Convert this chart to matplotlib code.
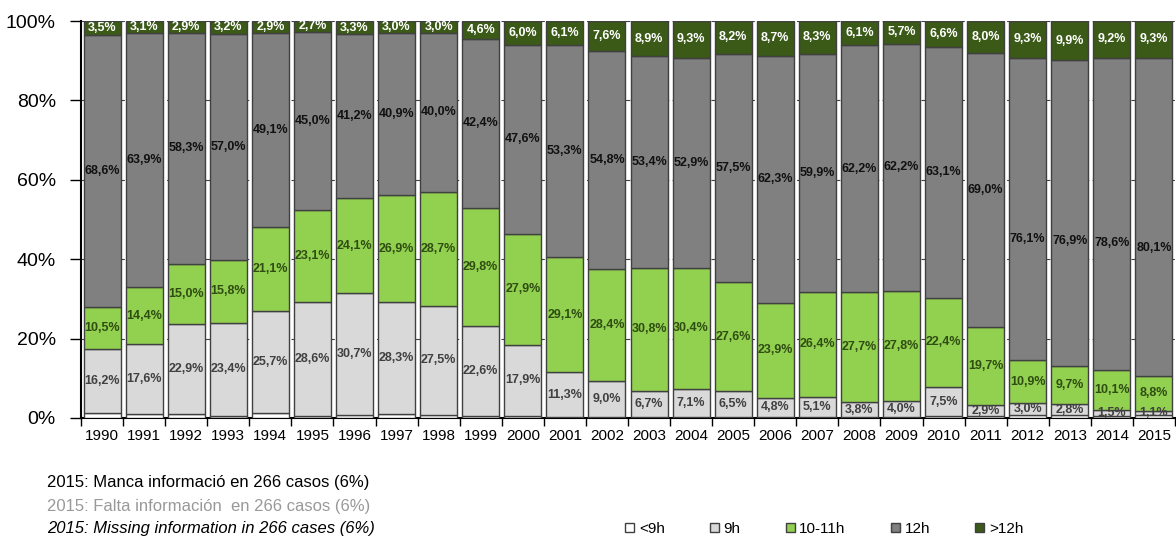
import numpy as np
import matplotlib.pyplot as plt
from matplotlib.patches import Patch

plt.rcParams['font.family'] = ['Liberation Sans', 'DejaVu Sans']

years = [str(y) for y in range(1990, 2016)]

# percentages per category
h9 = [16.2, 17.6, 22.9, 23.4, 25.7, 28.6, 30.7, 28.3, 27.5, 22.6, 17.9, 11.3, 9.0,
      6.7, 7.1, 6.5, 4.8, 5.1, 3.8, 4.0, 7.5, 2.9, 3.0, 2.8, 1.5, 1.1]
h10_11 = [10.5, 14.4, 15.0, 15.8, 21.1, 23.1, 24.1, 26.9, 28.7, 29.8, 27.9, 29.1, 28.4,
          30.8, 30.4, 27.6, 23.9, 26.4, 27.7, 27.8, 22.4, 19.7, 10.9, 9.7, 10.1, 8.8]
h12 = [68.6, 63.9, 58.3, 57.0, 49.1, 45.0, 41.2, 40.9, 40.0, 42.4, 47.6, 53.3, 54.8,
       53.4, 52.9, 57.5, 62.3, 59.9, 62.2, 62.2, 63.1, 69.0, 76.1, 76.9, 78.6, 80.1]
h12plus = [3.5, 3.1, 2.9, 3.2, 2.9, 2.7, 3.3, 3.0, 3.0, 4.6, 6.0, 6.1, 7.6,
           8.9, 9.3, 8.2, 8.7, 8.3, 6.1, 5.7, 6.6, 8.0, 9.3, 9.9, 9.2, 9.3]
# <9h is not labelled, it's the rest up to 100%
lt9 = list(np.round(100 - np.array(h9) - np.array(h10_11) - np.array(h12) - np.array(h12plus), 1))

series = [('<9h', lt9, '#ffffff', None),
          ('9h', h9, '#d9d9d9', '#404040'),
          ('10-11h', h10_11, '#92d050', '#2f4d12'),
          ('12h', h12, '#808080', '#111111'),
          ('>12h', h12plus, '#3b5a17', '#ffffff')]

# some 12h labels sit lower than the middle of the segment in the original
label_nudge = {('12h', 22): -7.5, ('12h', 23): -7.0, ('12h', 24): -7.3, ('12h', 25): -7.8}

fig = plt.figure(figsize=(11.76, 5.39), dpi=100)
ax = fig.add_axes([81/1176, 1 - 418/539, (1175 - 81)/1176, (418 - 21)/539])

x = np.arange(len(years))
bottom = np.zeros(len(years))
handles = []
for name, vals, col, tcol in series:
    vals = np.array(vals)
    b = ax.bar(x, vals, 0.88, bottom=bottom, color=col, edgecolor='#404040',
               linewidth=1.0, zorder=3)
    handles.append(Patch(facecolor=col, edgecolor='#404040', linewidth=1.0, label=name))
    if tcol is not None:
        for i, v in enumerate(vals):
            ypos = bottom[i] + v / 2 + label_nudge.get((name, i), 0)
            ax.text(x[i], ypos, f'{v:.1f}%'.replace('.', ','),
                    ha='center', va='center', fontsize=9, fontweight='bold',
                    color=tcol, zorder=4)
    bottom += vals

ax.set_xlim(-0.5, len(years) - 0.5)
ax.set_ylim(0, 100)
ax.set_yticks([0, 20, 40, 60, 80, 100])
ax.set_yticklabels(['0%', '20%', '40%', '60%', '80%', '100%'], fontsize=14)
ax.tick_params(axis='y', length=8, width=1, pad=10)
ax.set_xticks(x)
ax.set_xticklabels(years, fontsize=11)
ax.set_xticks(np.arange(-0.5, len(years), 1), minor=True)
ax.tick_params(axis='x', which='major', length=0, pad=8)
ax.tick_params(axis='x', which='minor', length=6, width=1)
ax.yaxis.grid(True, linestyle=(0, (4, 3)), color='#404040', linewidth=0.8, zorder=0)
ax.set_axisbelow(True)
for s in ['top', 'right']:
    ax.spines[s].set_visible(False)
ax.spines['left'].set_linewidth(1.5)
ax.spines['bottom'].set_linewidth(1.5)

# footnotes
fig.text(47/1176, 1 - 483/539, '2015: Manca informació en 266 casos (6%)',
         fontsize=12, color='black', va='center')
fig.text(47/1176, 1 - 506/539, '2015: Falta información  en 266 casos (6%)',
         fontsize=12, color='#999999', va='center')
fig.text(47/1176, 1 - 529/539, '2015: Missing information in 266 cases (6%)',
         fontsize=12, color='black', style='italic', va='center')

fig.legend(handles=handles, loc='center left', bbox_to_anchor=(625/1176, 1 - 529/539),
           ncol=5, frameon=False, fontsize=11, handlelength=0.6, handleheight=0.6,
           handletextpad=0.3, columnspacing=2.95, borderpad=0, borderaxespad=0)

fig.savefig('out.png', dpi=100)
